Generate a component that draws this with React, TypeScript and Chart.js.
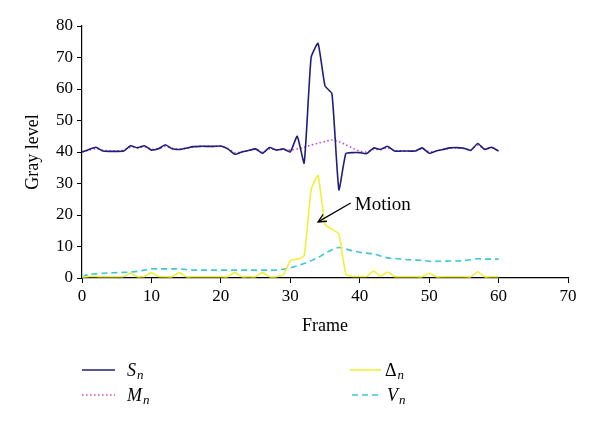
import React, { useEffect, useRef } from "react";
import { Chart, registerables } from "chart.js";

Chart.register(...registerables);

const frames = [
  0, 1, 2, 3, 4, 5, 6, 7, 8, 9, 10, 11, 12, 13, 14, 15, 16, 17, 18, 19, 20,
  21, 22, 23, 24, 25, 26, 27, 28, 29, 30, 31, 32, 33, 34, 35, 36, 37, 38, 39, 40,
  41, 42, 43, 44, 45, 46, 47, 48, 49, 50, 51, 52, 53, 54, 55, 56, 57, 58, 59, 60,
];

const sValues = [
  40, 40.8, 41.5, 40.3, 40.2, 40.2, 40.3, 42, 41.3, 42, 40.6,
  41, 42.3, 41, 40.8, 41.2, 41.7, 41.8, 41.8, 41.8, 41.9,
  41, 39.3, 40, 40.5, 41, 39.6, 41.4, 40.6, 41, 40,
  45, 36.5, 70, 74.5, 61, 58.5, 28, 39.5, 39.8, 39.8,
  39.5, 41.3, 40.8, 41.8, 40.3, 40.3, 40.3, 40.3, 41.3, 39.6,
  40.3, 40.8, 41.3, 41.4, 41.2, 40.5, 42.7, 40.8, 41.5, 40.3,
];

const mValues = [
  40, 40.6, 41, 40.6, 40.3, 40.3, 40.6, 41.5, 41.4, 41.6, 40.9,
  41, 41.8, 41.2, 40.9, 41.2, 41.6, 41.8, 41.8, 41.8, 41.8,
  41.1, 39.8, 40, 40.5, 40.8, 40, 41, 40.7, 40.8, 40.6,
  41, 41.5, 42.2, 42.8, 43.3, 43.8, 43.3, 42.3, 41.2, 40.3,
  40, 40.8, 40.8, 41.3, 40.5, 40.3, 40.3, 40.4, 41, 40.1,
  40.3, 40.8, 41.2, 41.3, 41.1, 40.7, 42.2, 41, 41.3, 40.4,
];

const deltaValues = [
  0.3, 0.5, 0.5, 0.4, 0.4, 0.4, 0.5, 1.5, 0.4, 0.5, 1.7,
  0.5, 0.4, 0.4, 1.7, 0.4, 0.4, 0.4, 0.4, 0.4, 0.4,
  0.4, 1.7, 0.4, 0.4, 0.4, 1.7, 0.4, 0.4, 1, 5.5,
  6, 7, 28, 32.5, 17, 15.5, 14, 1.2, 0.5, 0.5,
  0.5, 2.2, 0.5, 1.9, 0.5, 0.4, 0.4, 0.4, 0.4, 1.5,
  0.4, 0.4, 0.4, 0.4, 0.4, 0.4, 2, 0.4, 0.4, 0.4,
];

const vValues = [
  0.3, 1.2, 1.3, 1.5, 1.6, 1.7, 1.8, 1.9, 2.1, 2.5, 2.9,
  2.9, 2.9, 2.9, 2.9, 2.7, 2.5, 2.5, 2.5, 2.5, 2.5,
  2.5, 2.5, 2.5, 2.5, 2.5, 2.5, 2.5, 2.5, 2.8, 3.2,
  3.9, 4.6, 5.5, 6.5, 7.8, 9, 9.7, 9.2, 8.6, 8.2,
  7.9, 7.6, 7, 6.4, 6.2, 6, 5.8, 5.7, 5.6, 5.3,
  5.3, 5.3, 5.4, 5.4, 5.5, 5.8, 6.1, 6, 6, 6,
];

const seriesNames = ["S", "M", "Δ", "V"];
const seriesColors = ["#1f1f7a", "#cc44cc", "#f0f03a", "#3cc8d0"];
const xTicks = [0, 10, 20, 30, 40, 50, 60, 70];
const yTicks = [0, 10, 20, 30, 40, 50, 60, 70, 80];

const motionLabel = "Motion";
const arrowTip = { x: 34, y: 17.8 };
const arrowTail = { x: 38.7, y: 23.8 };
const motionText = { x: 39.3, y: 23.2 };

const SERIF = "'Liberation Serif', 'DejaVu Serif', serif";

const toPts = (vals: number[]) => frames.map((f, i) => ({ x: f, y: vals[i] }));

const overlayPlugin = {
  id: "overlay",
  afterDraw(chart: any) {
    const ctx = chart.ctx as CanvasRenderingContext2D;
    const xs = chart.scales.x;
    const ys = chart.scales.y;
    ctx.save();
    // Motion annotation
    const tx = xs.getPixelForValue(arrowTip.x);
    const ty = ys.getPixelForValue(arrowTip.y);
    const sx = xs.getPixelForValue(arrowTail.x);
    const sy = ys.getPixelForValue(arrowTail.y);
    ctx.strokeStyle = "#000";
    ctx.fillStyle = "#000";
    ctx.lineWidth = 1.3;
    ctx.beginPath();
    ctx.moveTo(sx, sy);
    ctx.lineTo(tx, ty);
    ctx.stroke();
    const ang = Math.atan2(ty - sy, tx - sx);
    const ah = 9;
    ctx.beginPath();
    ctx.moveTo(tx + Math.cos(ang + Math.PI - 0.45) * ah, ty + Math.sin(ang + Math.PI - 0.45) * ah);
    ctx.lineTo(tx, ty);
    ctx.lineTo(tx + Math.cos(ang + Math.PI + 0.45) * ah, ty + Math.sin(ang + Math.PI + 0.45) * ah);
    ctx.stroke();
    ctx.font = `19px ${SERIF}`;
    ctx.textAlign = "left";
    ctx.textBaseline = "middle";
    ctx.fillText(motionLabel, xs.getPixelForValue(motionText.x), ys.getPixelForValue(motionText.y));

    // Legend
    const slots = [
      { lx: 82, ly: 370, tx: 127 },
      { lx: 82, ly: 395, tx: 127 },
      { lx: 350, ly: 370, tx: 385 },
      { lx: 352, ly: 395, tx: 387 },
    ];
    const dashes = [[], [1.5, 2.5], [], [6, 4]];
    slots.forEach((s, i) => {
      ctx.strokeStyle = seriesColors[i];
      ctx.lineWidth = 1.6;
      ctx.setLineDash(dashes[i]);
      ctx.beginPath();
      ctx.moveTo(s.lx, s.ly);
      ctx.lineTo(i >= 2 ? 381 : 115, s.ly);
      ctx.stroke();
      ctx.setLineDash([]);
      ctx.fillStyle = "#000";
      ctx.textBaseline = "alphabetic";
      const isGreek = seriesNames[i] === "Δ";
      ctx.font = `${isGreek ? "" : "italic "}18px ${SERIF}`;
      ctx.fillText(seriesNames[i], s.tx, s.ly + 6);
      const w = ctx.measureText(seriesNames[i]).width;
      ctx.font = `italic 13px ${SERIF}`;
      ctx.fillText("n", s.tx + w + 1, s.ly + 9);
    });
    ctx.restore();
  },
};

export default function App() {
  const ref = useRef<HTMLCanvasElement | null>(null);
  useEffect(() => {
    if (!ref.current) return;
    const tickFont = { family: SERIF, size: 17 };
    const chart = new Chart(ref.current, {
      type: "line",
      data: {
        datasets: [
          {
            label: "Sn",
            data: toPts(sValues),
            borderColor: seriesColors[0],
            borderWidth: 1.6,
            pointRadius: 0,
            tension: 0.15,
          },
          {
            label: "Mn",
            data: toPts(mValues),
            borderColor: seriesColors[1],
            borderWidth: 1.6,
            borderDash: [1.5, 2.5],
            pointRadius: 0,
            tension: 0.3,
          },
          {
            label: "Δn",
            data: toPts(deltaValues),
            borderColor: seriesColors[2],
            borderWidth: 1.6,
            pointRadius: 0,
            tension: 0.15,
          },
          {
            label: "Vn",
            data: toPts(vValues),
            borderColor: seriesColors[3],
            borderWidth: 1.6,
            borderDash: [6, 4],
            pointRadius: 0,
            tension: 0.3,
          },
        ],
      },
      options: {
        animation: false,
        responsive: false,
        layout: { padding: { left: 18, top: 26, right: 32, bottom: 86 } },
        plugins: { legend: { display: false }, tooltip: { enabled: false } },
        scales: {
          x: {
            type: "linear",
            min: 0,
            max: 70,
            afterBuildTicks: (s: any) => {
              s.ticks = xTicks.map((v) => ({ value: v }));
            },
            afterFit: (s: any) => {
              s.height = 63;
            },
            ticks: { font: tickFont, color: "#000", padding: 3 },
            grid: {
              drawOnChartArea: false,
              drawTicks: true,
              tickLength: 5,
              color: "#000",
            },
            border: { color: "#000", width: 1.2 },
            title: { display: true, text: "Frame", font: { family: SERIF, size: 18 }, color: "#000" },
          },
          y: {
            type: "linear",
            min: 0,
            max: 80,
            afterBuildTicks: (s: any) => {
              s.ticks = yTicks.map((v) => ({ value: v }));
            },
            afterFit: (s: any) => {
              s.width = 64;
            },
            ticks: { font: tickFont, color: "#000", padding: 4 },
            grid: {
              drawOnChartArea: false,
              drawTicks: true,
              tickLength: 5,
              color: "#000",
            },
            border: { color: "#000", width: 1.2 },
            title: { display: true, text: "Gray level", font: { family: SERIF, size: 18 }, color: "#000" },
          },
        },
      },
      plugins: [overlayPlugin],
    } as any);
    return () => chart.destroy();
  }, []);
  return (
    <div style={{ position: "absolute", left: 0, top: 0, width: 600, height: 427, background: "#fff" }}>
      <canvas ref={ref} width={600} height={427} style={{ display: "block" }} />
    </div>
  );
}
